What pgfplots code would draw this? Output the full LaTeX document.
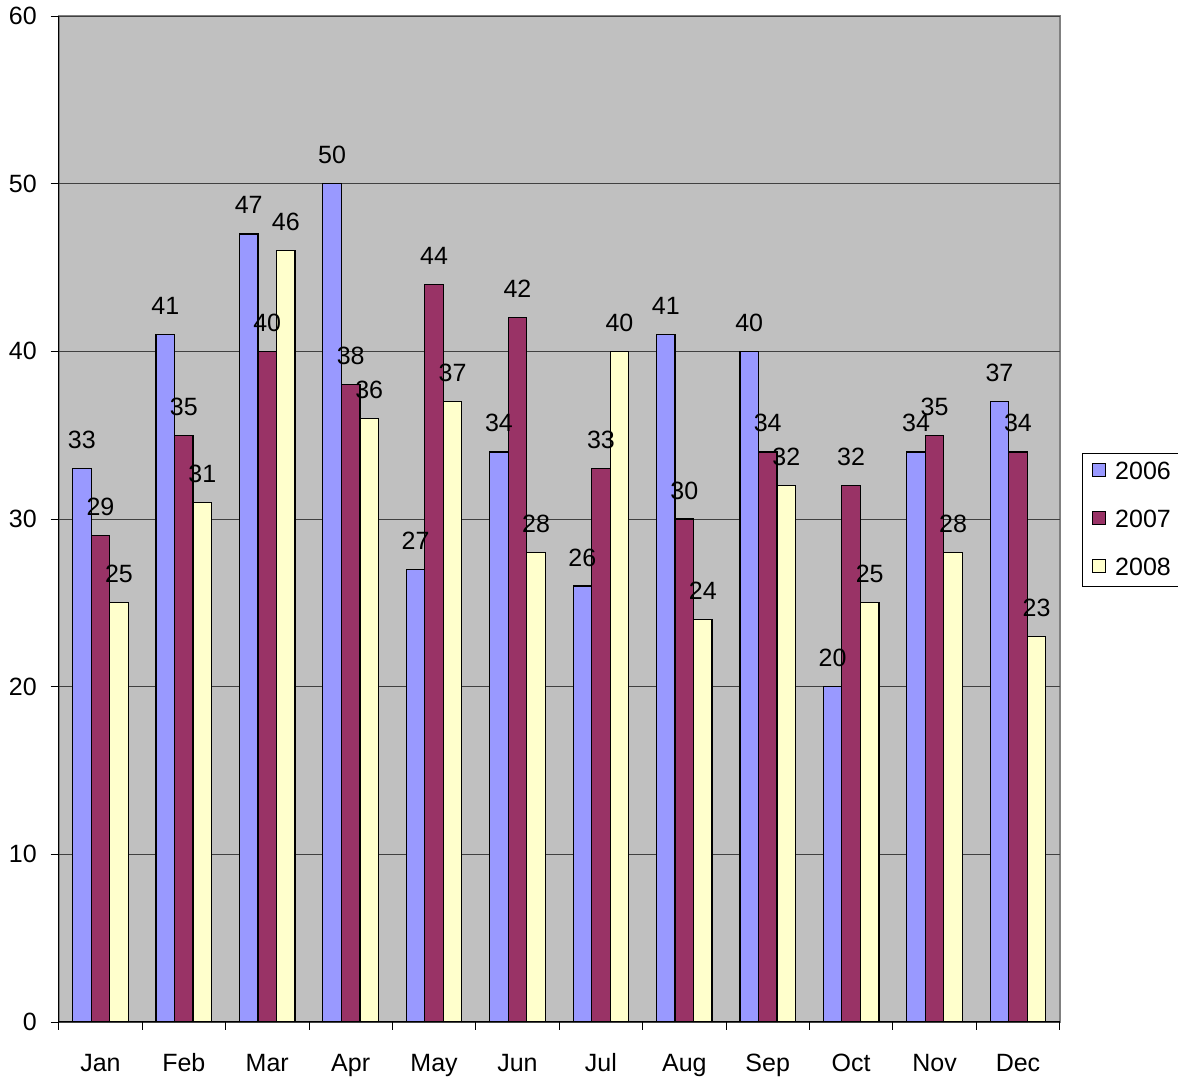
\documentclass[border=0pt]{standalone}
\usepackage{pgfplots}
\pgfplotsset{compat=1.18}
\usepackage{fontspec}
\setmainfont{Liberation Sans}
\definecolor{c06}{HTML}{9999FF}
\definecolor{c07}{HTML}{993366}
\definecolor{c08}{HTML}{FFFFCC}
\definecolor{bggray}{HTML}{C0C0C0}
\definecolor{edgegray}{HTML}{808080}
\newcommand{\lbl}{\fontsize{25}{30}\selectfont}
\begin{document}
\begin{tikzpicture}
\useasboundingbox (-58.7pt,-59pt) rectangle (1119.3pt,1022pt);
\begin{axis}[
  at={(0pt,0pt)}, anchor=south west,
  scale only axis, width=1001pt, height=1006pt,
  ybar=0pt, bar width=0.222,
  xmin=-0.5, xmax=11.5, ymin=0, ymax=60,
  axis x line*=bottom, axis y line*=left,
  axis line style={black, line width=1pt},
  axis background/.style={fill=bggray, draw=edgegray, line width=2pt},
  ytick={0,10,...,60},
  xtick={-0.5,0.5,...,11.5},
  x tick label as interval,
  xticklabels={Jan,Feb,Mar,Apr,May,Jun,Jul,Aug,Sep,Oct,Nov,Dec},
  tick align=outside,
  major tick length=8pt,
  tick style={black, line width=0.8pt},
  ymajorgrids, grid style={black!75, line width=0.8pt},
  /pgf/number format/assume math mode=true,
  tick label style={font=\lbl},
  x tick label style={anchor=base, yshift=-42pt},
  y tick label style={anchor=east, xshift=-10.5pt},
  nodes near coords,
  every node near coord/.append style={font=\lbl, text=black, anchor=base, yshift=20pt, inner sep=0pt},
  legend style={at={(1.0223,0.5656)}, anchor=north west, draw=black, fill=white,
    font=\lbl, row sep=25pt, column sep=7pt, inner xsep=10pt, inner ysep=7pt},
  legend cell align=left,
  legend image code/.code={\draw[#1, line width=1pt] (0pt,-5pt) rectangle (13pt,8pt);},
]
\addplot[fill=c06, draw=black, line width=1.2pt] coordinates
  {(0,33) (1,41) (2,47) (3,50) (4,27) (5,34) (6,26) (7,41) (8,40) (9,20) (10,34) (11,37)};
\addlegendentry{2006}
\addplot[fill=c07, draw=black, line width=1.2pt] coordinates
  {(0,29) (1,35) (2,40) (3,38) (4,44) (5,42) (6,33) (7,30) (8,34) (9,32) (10,35) (11,34)};
\addlegendentry{2007}
\addplot[fill=c08, draw=black, line width=1.2pt] coordinates
  {(0,25) (1,31) (2,46) (3,36) (4,37) (5,28) (6,40) (7,24) (8,32) (9,25) (10,28) (11,23)};
\addlegendentry{2008}
\end{axis}
\end{tikzpicture}
\end{document}
